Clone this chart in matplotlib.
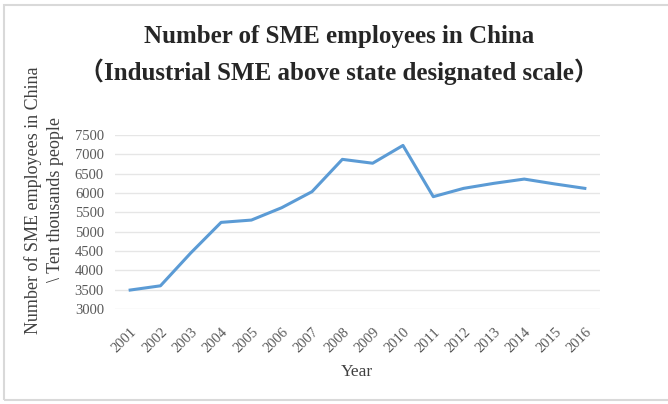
import matplotlib.pyplot as plt
from matplotlib.patches import Rectangle

years = ["2001", "2002", "2003", "2004", "2005", "2006", "2007", "2008",
         "2009", "2010", "2011", "2012", "2013", "2014", "2015", "2016"]
employees = [3490, 3600, 4450, 5240, 5300, 5620, 6035, 6870,
             6770, 7230, 5905, 6120, 6250, 6360, 6235, 6120]
yticks = [3000, 3500, 4000, 4500, 5000, 5500, 6000, 6500, 7000, 7500]

plt.rcParams['font.family'] = ['Liberation Serif', 'DejaVu Serif']

fig = plt.figure(figsize=(6.68, 4.04), dpi=100)
W, H = 668, 404

# chart frame
fig.patches.append(Rectangle((4 / W, 1 - 400 / H), 700 / W, 395 / H,
                             transform=fig.transFigure, fill=False,
                             edgecolor='#d9d9d9', linewidth=1.5))

ax = fig.add_axes([115 / W, 1 - 309 / H, 485 / W, 174 / H])
x = range(len(years))
ax.plot(x, employees, color='#5b9bd5', linewidth=2.2)

ax.set_ylim(3000, 7500)
ax.set_yticks(yticks)
ax.set_xlim(-0.5, len(years) - 0.5)
ax.set_xticks(list(x))
ax.set_xticklabels(years, rotation=45, ha='right', rotation_mode='anchor',
                   fontsize=10.5, color='#595959')
ax.tick_params(axis='y', labelsize=10.5, labelcolor='#595959', length=0, pad=8)
ax.tick_params(axis='x', length=0, pad=12)
ax.grid(axis='y', color='#e6e6e6', linewidth=1)
ax.set_axisbelow(True)
for s in ax.spines.values():
    s.set_visible(False)

fig.text(357 / W, 1 - 372 / H, "Year", ha='center', va='center',
         fontsize=12.5, color='#404040')
fig.text(44 / W, 1 - 200 / H,
         "Number of SME employees in China\n\\ Ten thousands people",
         rotation=90, ha='center', va='center', fontsize=13,
         color='#404040', linespacing=1.35)

fig.text(339 / W, 1 - 37 / H, "Number of SME employees in China",
         ha='center', va='center', fontsize=18, fontweight='bold',
         color='#262626')
fig.text(339 / W, 1 - 72 / H,
         "\uff08Industrial SME above state designated scale\uff09",
         ha='center', va='center', fontsize=18, fontweight='bold',
         color='#262626', family=['Liberation Serif', 'Noto Sans CJK SC'])

fig.savefig("out.png", dpi=100)
